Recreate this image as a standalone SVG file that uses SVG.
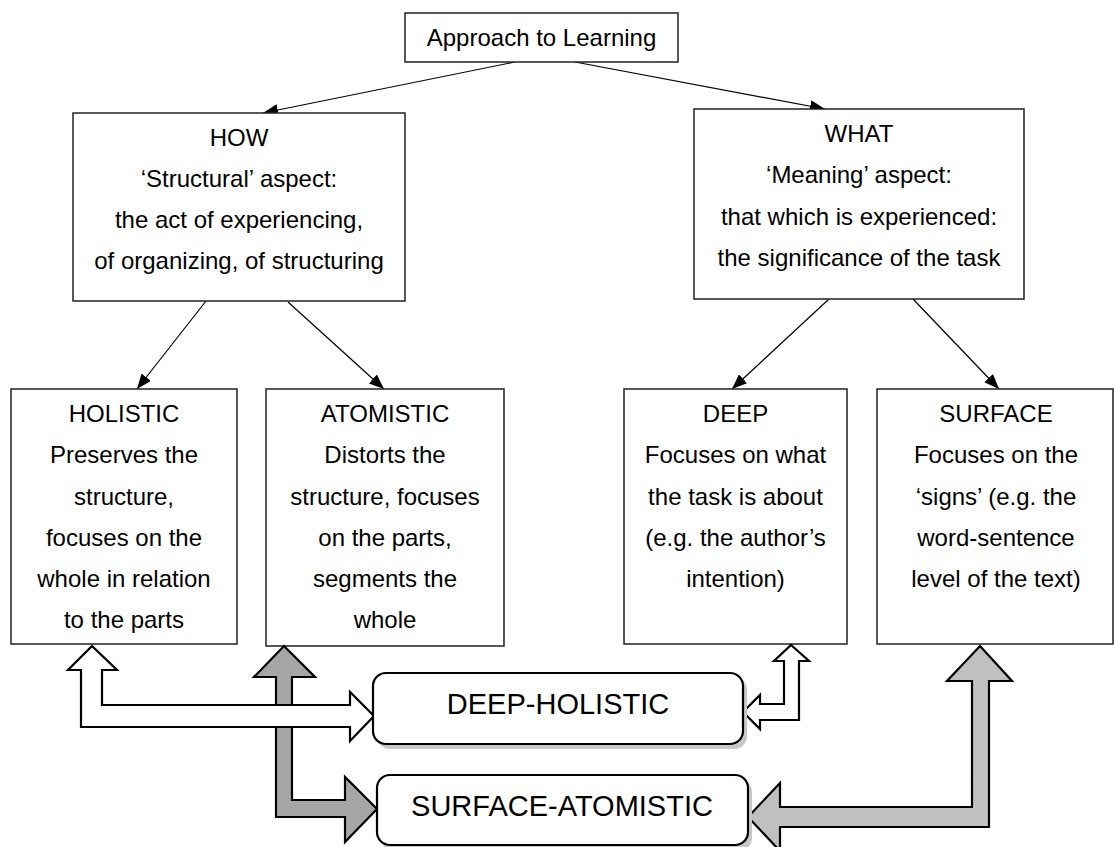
<svg xmlns="http://www.w3.org/2000/svg" width="1114" height="847" viewBox="0 0 1114 847">
<style>
.box{fill:#fff;stroke:#222;stroke-width:1.5}
.rbox{fill:#fff;stroke:#000;stroke-width:2.2}
.sh{fill:#c8c8c8}
.t{font-family:"Liberation Sans",Arial,sans-serif;font-size:24px;fill:#000;text-anchor:middle}
.big{font-size:29px}
.ln{stroke:#000;stroke-width:1.2;fill:none;marker-end:url(#ah)}
.ar{stroke:#000;stroke-width:2.2;stroke-linejoin:miter}
</style>
<defs>
<marker id="ah" markerUnits="userSpaceOnUse" markerWidth="16" markerHeight="12" refX="15" refY="6" orient="auto">
<path d="M0,0 L15,6 L0,12 z" fill="#000"/>
</marker>
</defs>
<rect width="1114" height="847" fill="#fff"/>

<g id="connectors">
<line class="ln" x1="515" y1="62" x2="263" y2="113"/>
<line class="ln" x1="575" y1="62" x2="825" y2="109"/>
<line class="ln" x1="206" y1="301" x2="137" y2="389"/>
<line class="ln" x1="288" y1="302" x2="384" y2="389"/>
<line class="ln" x1="829" y1="299" x2="732" y2="389"/>
<line class="ln" x1="913" y1="299" x2="999" y2="389"/>
</g>

<g id="n-approach">
<rect class="box" x="405" y="13" width="273" height="49"/>
<text class="t" x="541.5" y="46">Approach to Learning</text>
</g>

<g id="n-how">
<rect class="box" x="73" y="113" width="332" height="188"/>
<text class="t" x="239" y="146">HOW</text>
<text class="t" x="239" y="187">‘Structural’ aspect:</text>
<text class="t" x="239" y="228">the act of experiencing,</text>
<text class="t" x="239" y="269">of organizing, of structuring</text>
</g>

<g id="n-what">
<rect class="box" x="694" y="109" width="330" height="190"/>
<text class="t" x="859" y="142">WHAT</text>
<text class="t" x="859" y="183">‘Meaning’ aspect:</text>
<text class="t" x="859" y="225">that which is experienced:</text>
<text class="t" x="859" y="266">the significance of the task</text>
</g>

<g id="n-holistic">
<rect class="box" x="11" y="389" width="226" height="255"/>
<text class="t" x="124" y="422">HOLISTIC</text>
<text class="t" x="124" y="463">Preserves the</text>
<text class="t" x="124" y="505">structure,</text>
<text class="t" x="124" y="546">focuses on the</text>
<text class="t" x="124" y="587">whole in relation</text>
<text class="t" x="124" y="628">to the parts</text>
</g>

<g id="n-atomistic">
<rect class="box" x="266" y="389" width="238" height="257"/>
<text class="t" x="385" y="422">ATOMISTIC</text>
<text class="t" x="385" y="463">Distorts the</text>
<text class="t" x="385" y="505">structure, focuses</text>
<text class="t" x="385" y="546">on the parts,</text>
<text class="t" x="385" y="587">segments the</text>
<text class="t" x="385" y="628">whole</text>
</g>

<g id="n-deep">
<rect class="box" x="624" y="389" width="223" height="255"/>
<text class="t" x="735.5" y="422">DEEP</text>
<text class="t" x="735.5" y="463">Focuses on what</text>
<text class="t" x="735.5" y="505">the task is about</text>
<text class="t" x="735.5" y="546">(e.g. the author’s</text>
<text class="t" x="735.5" y="587">intention)</text>
</g>

<g id="n-surface">
<rect class="box" x="877" y="389" width="236" height="255"/>
<text class="t" x="996" y="422">SURFACE</text>
<text class="t" x="996" y="463">Focuses on the</text>
<text class="t" x="996" y="505">‘signs’ (e.g. the</text>
<text class="t" x="996" y="546">word-sentence</text>
<text class="t" x="996" y="587">level of the text)</text>
</g>

<g id="arrows">
<polygon class="ar" fill="#a6a6a6" points="284,646 315,677 292,677 292,800 345,800 345,777 377,809 345,842 345,817 276,817 276,677 254,677"/>
<polygon class="ar" fill="#fff" points="92,646 117,670 102,670 102,705 350,705 350,692 374,716 350,741 350,727 81,727 81,670 68,670"/>
<polygon class="ar" fill="#fff" points="791,645 809,661 799,661 799,720 760,720 760,729 743,712 760,695 760,704 784,704 784,661 774,661"/>
<polygon class="ar" fill="#c0c0c0" points="980,646 1012,681 989,681 989,827 780,827 780,851 748,817 780,783 780,807 972,807 972,681 947,681"/>
</g>

<g id="n-deep-holistic">
<rect class="sh" x="377" y="677" width="370" height="72" rx="13"/>
<rect class="rbox" x="373" y="673" width="370" height="71" rx="13"/>
<text class="t big" x="558" y="714">DEEP-HOLISTIC</text>
</g>

<g id="n-surface-atomistic">
<rect class="sh" x="381" y="779" width="371" height="72" rx="13"/>
<rect class="rbox" x="377" y="775" width="371" height="70" rx="13"/>
<text class="t big" x="562" y="816">SURFACE-ATOMISTIC</text>
</g>
</svg>
